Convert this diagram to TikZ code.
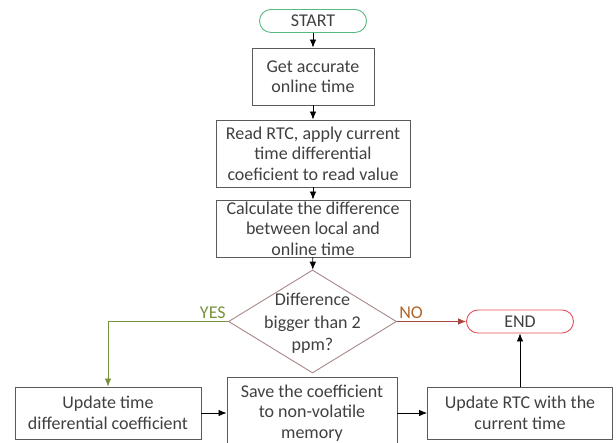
\documentclass[tikz,border=0pt]{standalone}
\usepackage{fontspec}
\setmainfont{Carlito}
\usetikzlibrary{shapes.geometric,arrows.meta}

\definecolor{txtgray}{HTML}{404040}
\definecolor{boxgray}{HTML}{5A5A5A}
\definecolor{startgreen}{HTML}{55BB80}
\definecolor{endred}{HTML}{E5505C}
\definecolor{decbrown}{HTML}{A88888}
\definecolor{yesgreen}{HTML}{77933C}
\definecolor{nobrown}{HTML}{B0642A}
\definecolor{nored}{HTML}{A5453D}

\begin{document}
\begin{tikzpicture}[x=1pt,y=1pt]
\tikzset{box/.style={draw=boxgray,line width=0.9pt,align=center,inner sep=0pt,text=txtgray,
    font=\fontsize{18}{20.5}\selectfont},
  term/.style={box,rounded corners=11.5pt,minimum width=107pt,minimum height=23pt},
  dec/.style={diamond,draw=decbrown,line width=0.9pt,inner sep=0pt,minimum width=168pt,
    minimum height=103pt,aspect=1.63},
  arr/.style={-{Latex[length=8pt,width=6.5pt]},line width=0.8pt}}

\useasboundingbox (0,0) rectangle (616,443);

% main column
\node[term,draw=startgreen] (start) at (313,422) {START};
\node[box,minimum width=122pt,minimum height=57pt] (get) at (313,366.5) {Get accurate\\online time};
\node[box,minimum width=194pt,minimum height=67pt] (read) at (313,289.5) {Read RTC, apply current\\time differential\\coeficient to read value};
\node[box,minimum width=194pt,minimum height=57pt] (calc) at (313,214.5) {Calculate the difference\\between local and\\online time};
\node[dec] (dia) at (312.5,121.5) {};
\node[align=center,text=txtgray,font=\fontsize{18}{22.5}\selectfont] (diatxt) at (312.5,119.5) {Difference\\bigger than 2\\ppm?};
\node[term,draw=endred] (end) at (520,121.5) {END};

% bottom row
\node[box,minimum width=186pt,minimum height=52pt] (upd) at (108,30) {Update time\\differential coefficient};
\node[box,minimum width=170pt,minimum height=72pt] (save) at (312,30) {Save the coefficient\\to non-volatile\\memory};
\node[box,minimum width=185pt,minimum height=52pt] (rtcnow) at (520,30) {Update RTC with the\\current time};

\draw[arr] (start) -- (get);
\draw[arr] (get) -- (read);
\draw[arr] (read) -- (calc);
\draw[arr] (calc) -- (dia);
\draw[arr,yesgreen] (dia.west) -| (upd.north)
  node[pos=0,above left,inner sep=2pt,font=\fontsize{18}{20}\selectfont] {YES};
\draw[arr,nored] (dia.east) -- (end.west)
  node[pos=0,above right,inner sep=2pt,text=nobrown,font=\fontsize{18}{20}\selectfont] {NO};
\draw[arr] (upd) -- (save);
\draw[arr] (save) -- (rtcnow);
\draw[arr] (rtcnow) -- (end);
\end{tikzpicture}
\end{document}
